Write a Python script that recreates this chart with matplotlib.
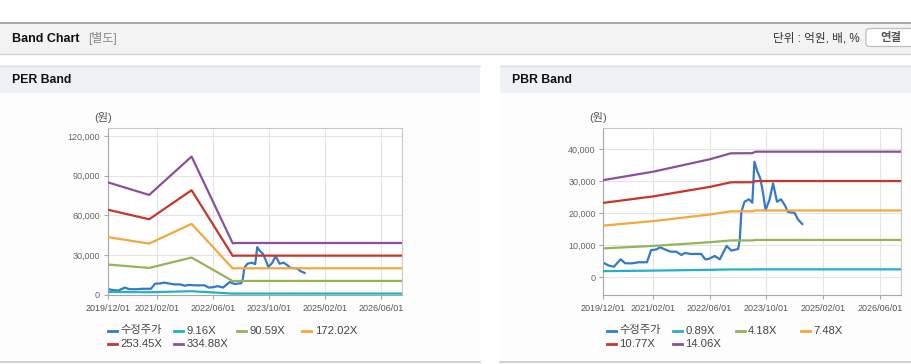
import matplotlib
matplotlib.use('Agg')
import matplotlib.pyplot as plt
from matplotlib.patches import Rectangle, FancyBboxPatch
from matplotlib.lines import Line2D
from matplotlib.ticker import FuncFormatter
import numpy as np
import pandas as pd

W, H = 912, 364

# adjusted price (수정주가)
price_dates = ['2019-12-01', '2020-01-15', '2020-03-01', '2020-04-28', '2020-06-05',
               '2020-08-01', '2020-10-01', '2020-12-10', '2021-01-15', '2021-03-01',
               '2021-04-01', '2021-05-25', '2021-07-01', '2021-08-20', '2021-10-01',
               '2021-11-01', '2021-12-25', '2022-03-20', '2022-04-25', '2022-05-20',
               '2022-07-15', '2022-08-28', '2022-10-25', '2022-12-05', '2023-02-01',
               '2023-02-15', '2023-03-01', '2023-03-28', '2023-05-05', '2023-06-03',
               '2023-06-21', '2023-07-12', '2023-08-10', '2023-09-01', '2023-09-25',
               '2023-10-28', '2023-11-28', '2024-01-01', '2024-02-05', '2024-03-12',
               '2024-04-01', '2024-06-01', '2024-06-28', '2024-08-05']
price = [4560, 3700, 3300, 5620, 4400,
         4350, 4700, 4700, 8500, 8700,
         9370, 8530, 8000, 8000, 6970,
         7600, 7290, 7300, 5620, 5700,
         6660, 5620, 9780, 8330, 8850,
         11650, 20500, 23620, 24370, 23310,
         36120, 33530, 30930, 26760, 21030,
         24150, 29370, 23620, 24370, 22280,
         20500, 20100, 18120, 16650]

# PER band: EPS per date and multiples
per_dates = ['2019-12-01', '2020-11-25', '2021-11-28', '2022-11-20', '2022-12-15', '2026-12-01']
per_eps = [254, 225.5, 312, 116.5, 117.2, 117.2]
per_multiples = [9.16, 90.59, 172.02, 253.45, 334.88]

# PBR band: BPS per date and multiples
pbr_dates = ['2019-12-01', '2021-02-01', '2022-06-01', '2022-12-01', '2023-06-01', '2023-07-01', '2026-12-01']
pbr_bps = [2160, 2347, 2622, 2756, 2758, 2792, 2792]
pbr_multiples = [0.89, 4.18, 7.48, 10.77, 14.06]

x_ticks = ['2019-12-01', '2021-02-01', '2022-06-01', '2023-10-01', '2025-02-01', '2026-06-01']
x_range = ['2019-12-01', '2026-12-01']

price_color = '#3479cf'
band_colors = ['#22b1c8', '#93b556', '#f4a73a', '#c9352c', '#8d4f9c']

plt.rcParams['font.family'] = ['Liberation Sans', 'Noto Sans CJK KR']

fig = plt.figure(figsize=(W / 100, H / 100), dpi=100)


def fx(x):
    return x / W


def fy(y):
    return 1 - y / H


def box(x0, y0, x1, y1, color):
    fig.patches.append(Rectangle((fx(x0), fy(y1)), (x1 - x0) / W, (y1 - y0) / H,
                                 transform=fig.transFigure, facecolor=color,
                                 edgecolor='none', zorder=-2))


def hline(x0, x1, y, color, lw=1.0):
    fig.add_artist(Line2D([fx(x0), fx(x1)], [fy(y), fy(y)], color=color, lw=lw, zorder=-1))


# page header
box(0, 22, 912, 54, '#f3f3f3')
hline(0, 912, 22.5, '#a9a9a9', lw=1.4)
hline(0, 912, 54, '#d2d2d2', lw=1.0)
fig.text(fx(12), fy(38.5), 'Band Chart', fontsize=9, fontweight='bold', color='#111', va='center')
fig.text(fx(88), fy(38.5), '[별도]', fontsize=8.6, color='#888', va='center')
fig.text(fx(860), fy(38.5), '단위 : 억원, 배, %', fontsize=8.4, color='#333', va='center', ha='right')
fig.patches.append(FancyBboxPatch((fx(866), fy(46.5)), (930 - 866) / W, 18 / H,
                                  boxstyle='round,pad=0,rounding_size=0.006',
                                  transform=fig.transFigure, facecolor='white',
                                  edgecolor='#bdbdbd', lw=0.9, zorder=-1))
fig.text(fx(880), fy(38), '연결', fontsize=8.2, fontweight='bold', color='#555', va='center')


def draw_panel(px0, px1, title, ax_box, dates, values, multiples, ylim, yticks, legend_x0):
    box(px0, 65, px1, 93, '#eef2f6')
    box(px0, 93, px1, 362, '#fdfdfe')
    hline(px0, px1, 65.5, '#dde2e8')
    hline(px0, px1, 361.5, '#c8c8c8', lw=1.2)
    fig.text(fx(px0 + 12), fy(80), title, fontsize=8.8, fontweight='bold', color='#111', va='center')

    left, top, right, bottom = ax_box
    ax = fig.add_axes([fx(left), fy(bottom), (right - left) / W, (bottom - top) / H])
    ax.set_facecolor('white')

    ax.plot(pd.to_datetime(price_dates), price, color=price_color, lw=1.6, zorder=2)
    d = pd.to_datetime(dates)
    for m, c in zip(multiples, band_colors):
        ax.plot(d, np.array(values) * m, color=c, lw=1.6, zorder=3)

    ax.set_xlim(pd.to_datetime(x_range[0]), pd.to_datetime(x_range[1]))
    ax.set_ylim(*ylim)
    ax.set_yticks(yticks)
    ax.yaxis.set_major_formatter(FuncFormatter(lambda v, p: f'{v:,.0f}'))
    ax.set_xticks(pd.to_datetime(x_ticks))
    ax.set_xticklabels([t.replace('-', '/') for t in x_ticks])
    ax.grid(True, color='#e4e4e4', lw=0.8)
    ax.set_axisbelow(True)
    for s in ['left', 'bottom']:
        ax.spines[s].set_color('#a8a8a8')
    for s in ['top', 'right']:
        ax.spines[s].set_color('#c8c8c8')
    ax.tick_params(axis='y', length=3, width=0.8, color='#a8a8a8', pad=2.5,
                   labelsize=6.5, labelcolor='#666')
    ax.tick_params(axis='x', length=3, width=0.8, color='#a8a8a8', pad=3.5,
                   labelsize=6.5, labelcolor='#555')

    fig.text(fx(left - 5), fy(118), '(원)', fontsize=8, color='#555', va='center', ha='center')

    # legend: 4 fixed-width columns
    names = ['수정주가'] + [f'{m:.2f}X' for m in multiples]
    colors = [price_color] + band_colors
    col_off = [0, 66, 129, 194]
    for i, (name, c) in enumerate(zip(names, colors)):
        row, col = divmod(i, 4)
        x = legend_x0 + col_off[col]
        y = 330.5 + row * 13.5
        fig.add_artist(Line2D([fx(x), fx(x + 9)], [fy(y), fy(y)], color=c, lw=2.0))
        fig.text(fx(x + 12.5), fy(y), name, fontsize=8.1, color='#444', va='center')
    return ax


draw_panel(0, 480, 'PER Band', (107.7, 128.3, 402.3, 295), per_dates, per_eps, per_multiples,
           (0, 125800), [0, 30000, 60000, 90000, 120000], 108.3)
draw_panel(500, 912, 'PBR Band', (603.3, 128.3, 901, 295), pbr_dates, pbr_bps, pbr_multiples,
           (-5530, 46560), [0, 10000, 20000, 30000, 40000], 606.7)

fig.savefig('out.png', dpi=100)
